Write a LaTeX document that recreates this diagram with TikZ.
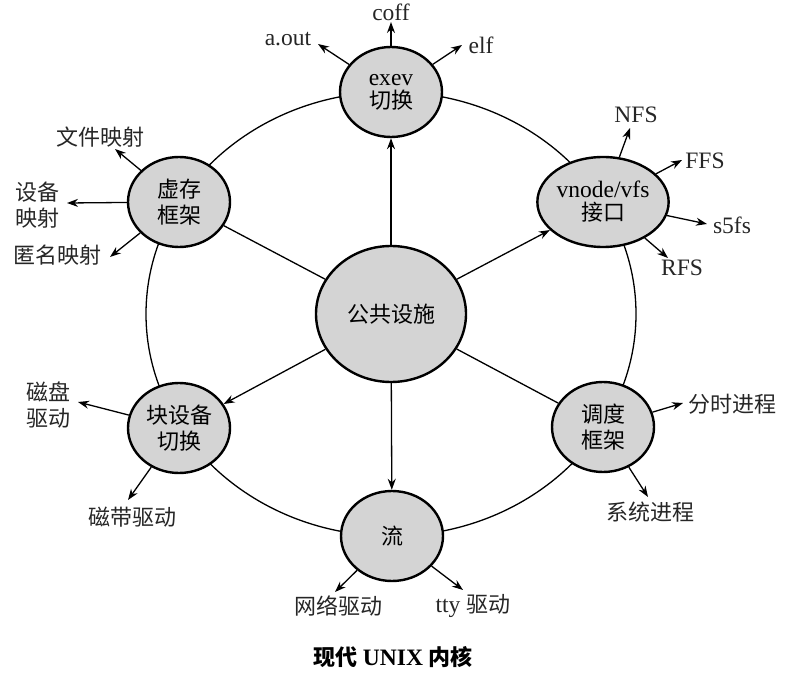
\documentclass[tikz,border=0pt]{standalone}
\usepackage{fontspec}
\setmainfont{Liberation Serif}[Scale=1.07]
\newfontfamily\cjk{Noto Sans CJK SC}
\usetikzlibrary{shapes.geometric,arrows.meta}
\newcommand\fs{\fontsize{22}{26}\selectfont}
\tikzset{
  mod/.style={ellipse, draw, line width=2.4, fill=gray!34, minimum width=102, minimum height=90, inner sep=0, align=center, font=\fs},
  hub/.style={mod, minimum width=150, minimum height=136},
  spoke/.style={line width=1.3},
  arr/.style={line width=1.3, -{Stealth[length=11,width=8]}},
  lab/.style={font=\fs, align=center, inner sep=1, text=black!85},
}
\begin{document}
\begin{tikzpicture}[x=1pt,y=-1pt]
\useasboundingbox (0,0) rectangle (794,692);
% ring
\draw[line width=1.3] (391,314) ellipse [x radius=245, y radius=222];
% nodes
\node[hub] (pub) at (391,314) {{\cjk 公共设施}};
\node[mod] (exev) at (391,92) {exev\\[-3pt]{\cjk 切换}};
\node[mod] (vfs) at (603,202) {vnode/vfs\\[-3pt]{\cjk 接口}};
\node[mod] (sch) at (603,427) {{\cjk 调度}\\{\cjk 框架}};
\node[mod] (str) at (392,536) {{\cjk 流}};
\node[mod] (blk) at (179,428) {{\cjk 块设备}\\{\cjk 切换}};
\node[mod] (vm) at (179,202) {{\cjk 虚存}\\{\cjk 框架}};
% spokes
\draw[arr] (pub) -- (exev);
\draw[arr] (pub) -- (vfs);
\draw[spoke] (pub) -- (sch);
\draw[arr] (pub) -- (str);
\draw[arr] (pub) -- (blk);
\draw[spoke] (pub) -- (vm);
% outer labels: exev
\node[lab] (coff) at (391,12) {coff};
\coordinate (coffE) at (391,22);
\node[lab] (aout) at (288,39) {a.out};
\coordinate (aoutE) at (318,44);
\node[lab] (elf) at (481,45) {elf};
\coordinate (elfE) at (462,45);
\draw[arr] (exev) -- (coffE);
\draw[arr] (exev) -- (aoutE);
\draw[arr] (exev) -- (elfE);
% vfs
\node[lab] (nfs) at (636,115) {NFS};
\coordinate (nfsE) at (630,128);
\node[lab] (ffs) at (705,161) {FFS};
\coordinate (ffsE) at (682,160);
\node[lab] (s5fs) at (732,225) {s5fs};
\coordinate (s5fsE) at (707,224);
\node[lab] (rfs) at (682,268) {RFS};
\coordinate (rfsE) at (668,258);
\draw[arr] (vfs) -- (nfsE);
\draw[arr] (vfs) -- (ffsE);
\draw[arr] (vfs) -- (s5fsE);
\draw[arr] (vfs) -- (rfsE);
% vm
\node[lab] (wjys) at (100,137) {{\cjk 文件映射}};
\coordinate (wjysE) at (115,149);
\node[lab] (sbys) at (38,205) {{\cjk 设备}\\{\cjk 映射}};
\coordinate (sbysE) at (67,203);
\node[lab] (nmys) at (57,255) {{\cjk 匿名映射}};
\coordinate (nmysE) at (110,257);
\draw[arr] (vm) -- (wjysE);
\draw[arr] (vm) -- (sbysE);
\draw[arr] (vm) -- (nmysE);
% blk
\node[lab] (cpqd) at (48,405) {{\cjk 磁盘}\\{\cjk 驱动}};
\coordinate (cpqdE) at (78,402);
\node[lab] (cdqd) at (132,517) {{\cjk 磁带驱动}};
\coordinate (cdqdE) at (128,500);
\draw[arr] (blk) -- (cpqdE);
\draw[arr] (blk) -- (cdqdE);
% sch
\node[lab] (fsjc) at (732,404) {{\cjk 分时进程}};
\coordinate (fsjcE) at (683,403);
\node[lab] (xtjc) at (650,512) {{\cjk 系统进程}};
\coordinate (xtjcE) at (648,497);
\draw[arr] (sch) -- (fsjcE);
\draw[arr] (sch) -- (xtjcE);
% str
\node[lab] (wlqd) at (338,606) {{\cjk 网络驱动}};
\coordinate (wlqdE) at (335,592);
\node[lab] (tty) at (473,606) {tty {\cjk 驱动}};
\coordinate (ttyE) at (463,590);
\draw[arr] (str) -- (wlqdE);
\draw[arr] (str) -- (ttyE);
% title
\node[font=\fs\bfseries] (title) at (393,657) {{\cjk 现代} UNIX {\cjk 内核}};
\end{tikzpicture}
\end{document}
